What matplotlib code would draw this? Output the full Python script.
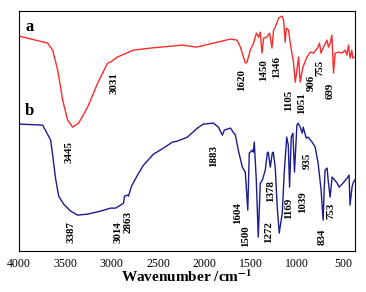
import numpy as np
import matplotlib
matplotlib.use("Agg")
import matplotlib.pyplot as plt

# curve a (red), wavenumber / arbitrary transmittance
wa = [4000, 3691, 3637, 3583, 3529, 3476, 3422, 3357, 3260, 3152, 3045, 3013, 2940, 2765,
      2582, 2237, 2086, 1903, 1720, 1648, 1612, 1558, 1540, 1505, 1469, 1440, 1415, 1397,
      1379, 1361, 1325, 1297, 1271, 1254, 1235, 1200, 1163, 1146, 1128, 1117, 1092, 1074,
      1038, 1020, 1002, 984, 967, 937, 894, 859, 823, 780, 758, 743, 715, 678, 661, 643,
      625, 607, 589, 554, 517, 481, 463, 446, 428, 410, 399, 385]
ta = [215, 208, 201, 181, 151, 131, 124, 128, 144, 168, 188, 189, 194, 201,
      203, 206, 204, 208, 212, 211, 204, 188, 189, 201, 208, 218, 214, 219,
      198, 213, 214, 218, 203, 221, 224, 233, 235, 231, 209, 223, 221, 208,
      188, 169, 181, 194, 169, 184, 194, 199, 198, 203, 208, 198, 204, 211, 204, 208,
      216, 178, 198, 199, 198, 201, 196, 206, 193, 201, 193, 194]

# curve b (blue)
wb = [4000, 3745, 3659, 3637, 3605, 3572, 3519, 3443, 3369, 3260, 3120, 3012, 2958, 2904,
      2872, 2862, 2829, 2819, 2786, 2722, 2657, 2549, 2442, 2345, 2291, 2183, 2076, 2011,
      1903, 1849, 1806, 1785, 1720, 1666, 1634, 1591, 1559, 1532, 1516, 1483, 1472, 1462,
      1440, 1419, 1397, 1375, 1343, 1322, 1311, 1289, 1268, 1257, 1236, 1214, 1193, 1160,
      1139, 1112, 1095, 1081, 1063, 1045, 1028, 1002, 988, 967, 945, 934, 902, 881, 838,
      805, 773, 741, 719, 708, 698, 676, 665, 644, 622, 611, 568, 547, 504, 461, 439, 429,
      407, 396, 380]
tb = [127, 126, 111, 96, 72, 55, 47, 40, 36, 37, 40, 43, 43, 46,
      48, 55, 56, 55, 65, 76, 86, 97, 103, 109, 110, 114, 123, 127,
      128, 124, 116, 121, 123, 116, 101, 84, 79, 41, 98, 101, 99, 109,
      71, 14, 68, 71, 81, 98, 99, 84, 98, 99, 84, 44, 18, 38,
      78, 114, 106, 64, 114, 118, 79, 126, 128, 124, 118, 124, 113, 114, 109,
      104, 88, 61, 31, 61, 81, 83, 71, 54, 74, 73, 68, 64, 68, 73, 76, 46,
      64, 68, 71]

# peak labels: text, wavenumber, height
labels_a = [("3031", 2979, 168), ("1620", 1601, 171), ("1450", 1364, 181),
            ("1346", 1224, 184), ("1105", 1095, 151), ("1051", 955, 148),
            ("906", 852, 168), ("755", 752, 183), ("699", 643, 160)]
labels_b = [("3445", 3465, 99), ("3387", 3443, 19), ("3014", 2937, 19),
            ("2863", 2819, 29), ("1883", 1903, 95), ("1604", 1645, 38),
            ("1500", 1559, 15), ("1378", 1290, 60), ("1272", 1311, 19),
            ("1169", 1095, 43), ("1039", 945, 49), ("935", 892, 90),
            ("834", 731, 14), ("753", 634, 40)]
xticks = [4000, 3500, 3000, 2500, 2000, 1500, 1000, 500]

plt.rcParams["font.family"] = "Liberation Serif"
plt.rcParams["mathtext.fontset"] = "stix"

fig = plt.figure(figsize=(3.66, 2.92), dpi=100)
ax = fig.add_axes([0.052, 0.140, 0.918, 0.822])
ax.plot(wa, ta, color="#ff2a2a", lw=1.0)
ax.plot(wb, tb, color="#1c1c8e", lw=1.0)

for txt, x, y in labels_a + labels_b:
    ax.text(x, y, txt, rotation=90, ha="center", va="center",
            fontsize=7.8, fontweight="bold")
ax.text(3889, 224, "a", ha="center", va="center", fontsize=12, fontweight="bold")
ax.text(3889, 140, "b", ha="center", va="center", fontsize=12, fontweight="bold")

ax.set_xlim(4000, 375)
ax.set_ylim(0, 240)
ax.set_xticks(xticks)
ax.set_yticks([])
ax.tick_params(axis="x", length=0, labelsize=8.5, pad=5)
ax.set_xlabel(r"Wavenumber /cm$^{\mathbf{-1}}$", fontsize=11, fontweight="bold", labelpad=-1)

fig.savefig("out.png", dpi=100)
